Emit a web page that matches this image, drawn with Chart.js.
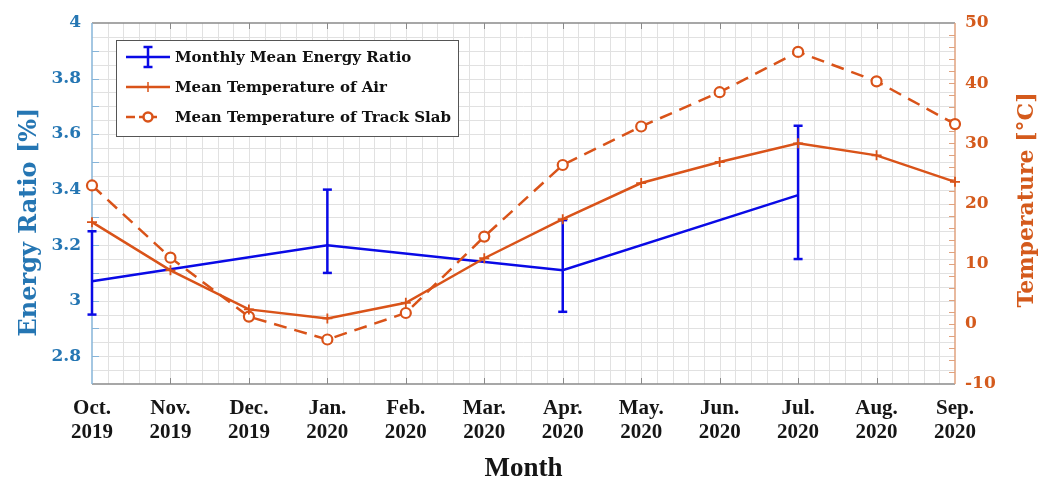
<!DOCTYPE html>
<html>
<head>
<meta charset="utf-8">
<script src="https://cdn.jsdelivr.net/npm/chart.js@4.4.1/dist/chart.umd.min.js"></script>
<style>
  html, body { margin: 0; padding: 0; background: #ffffff; }
  #wrap { width: 1053px; height: 481px; position: relative; }
</style>
</head>
<body>
<div id="wrap"><canvas id="c" width="1053" height="481"></canvas></div>
<script>
// Months along the bottom axis (two-line labels)
const months = ['Oct.', 'Nov.', 'Dec.', 'Jan.', 'Feb.', 'Mar.', 'Apr.', 'May.', 'Jun.', 'Jul.', 'Aug.', 'Sep.'];
const years  = ['2019', '2019', '2019', '2020', '2020', '2020', '2020', '2020', '2020', '2020', '2020', '2020'];

// Monthly mean energy ratio [%] (quarterly measurements) with error-bar limits
const energyRatio = [3.07, null, null, 3.20, null, null, 3.11, null, null, 3.38, null, null];
const energyHigh  = [3.25, null, null, 3.40, null, null, 3.29, null, null, 3.63, null, null];
const energyLow   = [2.95, null, null, 3.10, null, null, 2.96, null, null, 3.15, null, null];

// Mean temperatures [°C]
const airTemp  = [16.9, 8.9, 2.4, 0.9, 3.5, 10.9, 17.4, 23.4, 26.9, 30.0, 28.0, 23.6];
const slabTemp = [23.0, 11.0, 1.2, -2.6, 1.8, 14.5, 26.4, 32.8, 38.5, 45.2, 40.3, 33.2];

// Axis ticks
const ratioTicks = [2.8, 3.0, 3.2, 3.4, 3.6, 3.8, 4.0];
const tempTicks  = [-10, 0, 10, 20, 30, 40, 50];

const seriesLabels = ['Monthly Mean Energy Ratio', 'Mean Temperature of Air', 'Mean Temperature of Track Slab'];

const BLUE = '#0a0ae6';
const ORANGE = '#d95319';
const LEFT_AXIS_TEXT = '#2576b3';
const RIGHT_AXIS_TEXT = '#d45a1c';
const SERIF = '"DejaVu Serif", "Liberation Serif", serif';
const TIMES = '"Liberation Serif", "DejaVu Serif", serif';

function seg(ctx, x0, y0, x1, y1) {
  ctx.beginPath(); ctx.moveTo(x0, y0); ctx.lineTo(x1, y1); ctx.stroke();
}

// Grid, axis frame and inward tick marks
const framePlugin = {
  id: 'frame',
  beforeDatasetsDraw(chart) {
    const { ctx, chartArea: a, scales: { x, yE, yT } } = chart;
    ctx.save();
    ctx.lineWidth = 1;
    ctx.strokeStyle = '#e1e1e1';
    // vertical grid: five divisions per month
    for (let i = 0; i < months.length - 1; i++) {
      const p0 = x.getPixelForValue(i), p1 = x.getPixelForValue(i + 1);
      for (let k = 1; k < 5; k++) {
        const px = Math.round(p0 + (p1 - p0) * k / 5) + 0.5;
        seg(ctx, px, a.top, px, a.bottom);
      }
      if (i > 0) { const px = Math.round(p0) + 0.5; seg(ctx, px, a.top, px, a.bottom); }
    }
    // horizontal grid: every 0.05 on the ratio axis
    const nRows = Math.round((yE.max - yE.min) / 0.05);
    for (let j = 1; j < nRows; j++) {
      const py = Math.round(yE.getPixelForValue(yE.min + j * 0.05)) + 0.5;
      seg(ctx, a.left, py, a.right, py);
    }

    // top & bottom frame with month ticks
    ctx.strokeStyle = '#8a8a8a';
    ctx.lineWidth = 1.5;
    seg(ctx, a.left, a.top, a.right, a.top);
    seg(ctx, a.left, a.bottom, a.right, a.bottom);
    ctx.lineWidth = 1;
    for (let i = 1; i < months.length - 1; i++) {
      const px = Math.round(x.getPixelForValue(i)) + 0.5;
      seg(ctx, px, a.top, px, a.top + 6);
      seg(ctx, px, a.bottom, px, a.bottom - 6);
    }

    // left axis (ratio) with ticks every 0.1
    ctx.strokeStyle = '#86b4d8';
    ctx.lineWidth = 1.5;
    seg(ctx, a.left, a.top, a.left, a.bottom);
    ctx.lineWidth = 1;
    const nLeft = Math.round((yE.max - yE.min) / 0.1);
    for (let j = 1; j < nLeft; j++) {
      const py = Math.round(yE.getPixelForValue(yE.min + j * 0.1)) + 0.5;
      seg(ctx, a.left, py, a.left + 7, py);
    }

    // right axis (temperature) with ticks every 2 °C
    ctx.strokeStyle = '#e0a27e';
    ctx.lineWidth = 1.5;
    seg(ctx, a.right, a.top, a.right, a.bottom);
    ctx.lineWidth = 1;
    for (let t = yT.min + 2; t < yT.max; t += 2) {
      const py = Math.round(yT.getPixelForValue(t)) + 0.5;
      seg(ctx, a.right, py, a.right - 6, py);
    }
    ctx.restore();
  },
  afterDatasetDraw(chart, args) {
    // error bars drawn right after the energy-ratio line
    if (args.index !== 0) return;
    const { ctx, scales: { x, yE } } = chart;
    ctx.save();
    ctx.strokeStyle = BLUE;
    ctx.lineWidth = 2.5;
    energyRatio.forEach((v, i) => {
      if (v === null) return;
      const px = x.getPixelForValue(i);
      const hi = yE.getPixelForValue(energyHigh[i]);
      const lo = yE.getPixelForValue(energyLow[i]);
      seg(ctx, px, hi, px, lo);
      seg(ctx, px - 4.5, hi, px + 4.5, hi);
      seg(ctx, px - 4.5, lo, px + 4.5, lo);
    });
    ctx.restore();
  },
  afterDraw(chart) {
    const { ctx, chartArea: a, scales: { x } } = chart;
    ctx.save();

    // bottom category labels
    ctx.fillStyle = '#151515';
    ctx.textAlign = 'center';
    ctx.textBaseline = 'middle';
    ctx.font = 'bold 21px ' + TIMES;
    months.forEach((m, i) => {
      const px = x.getPixelForValue(i);
      ctx.fillText(m, px, 409);
      ctx.fillText(years[i], px, 433);
    });
    ctx.font = 'bold 27px ' + TIMES;
    ctx.fillText('Month', (a.left + a.right) / 2, 469);

    // axis titles
    ctx.font = 'bold 24px ' + SERIF;
    ctx.fillStyle = LEFT_AXIS_TEXT;
    ctx.save();
    ctx.translate(30, 222);
    ctx.rotate(-Math.PI / 2);
    ctx.fillText('Energy Ratio [%]', 0, 0);
    ctx.restore();
    ctx.font = 'bold 22px ' + SERIF;
    ctx.fillStyle = RIGHT_AXIS_TEXT;
    ctx.save();
    ctx.translate(1027, 200);
    ctx.rotate(-Math.PI / 2);
    ctx.fillText('Temperature [°C]', 0, 0);
    ctx.restore();

    // legend box
    const bx = 116, by = 40, bw = 342, bh = 96;
    ctx.fillStyle = '#ffffff';
    ctx.fillRect(bx, by, bw, bh);
    ctx.strokeStyle = '#555555';
    ctx.lineWidth = 1;
    ctx.strokeRect(bx + 0.5, by + 0.5, bw, bh);
    const rows = [57, 87, 117];
    const ix0 = 126, ix1 = 170, icx = 148;
    // energy ratio icon: line with error bar
    ctx.strokeStyle = BLUE; ctx.lineWidth = 2.5;
    seg(ctx, ix0, rows[0], ix1, rows[0]);
    seg(ctx, icx, rows[0] - 10, icx, rows[0] + 10);
    seg(ctx, icx - 4.5, rows[0] - 10, icx + 4.5, rows[0] - 10);
    seg(ctx, icx - 4.5, rows[0] + 10, icx + 4.5, rows[0] + 10);
    // air icon: line with plus marker
    ctx.strokeStyle = ORANGE; ctx.lineWidth = 2.5;
    seg(ctx, ix0, rows[1], ix1, rows[1]);
    ctx.lineWidth = 1.5;
    seg(ctx, icx, rows[1] - 5, icx, rows[1] + 5);
    // slab icon: dash with circle
    ctx.lineWidth = 2.5;
    seg(ctx, ix0, rows[2], ix0 + 9, rows[2]);
    seg(ctx, icx - 9, rows[2], icx + 9, rows[2]);
    ctx.fillStyle = '#ffffff';
    ctx.beginPath(); ctx.arc(icx, rows[2], 4.5, 0, Math.PI * 2); ctx.fill(); ctx.stroke();

    ctx.fillStyle = '#111111';
    ctx.font = 'bold 15px ' + SERIF;
    ctx.textAlign = 'left';
    seriesLabels.forEach((t, i) => ctx.fillText(t, 175, rows[i] + 1));
    ctx.restore();
  }
};

new Chart(document.getElementById('c'), {
  type: 'line',
  data: {
    labels: months,
    datasets: [
      {
        label: seriesLabels[0],
        data: energyRatio,
        yAxisID: 'yE',
        borderColor: BLUE,
        borderWidth: 2.5,
        pointRadius: 0,
        spanGaps: true,
        tension: 0,
        order: 3
      },
      {
        label: seriesLabels[1],
        data: airTemp,
        yAxisID: 'yT',
        borderColor: ORANGE,
        borderWidth: 2.5,
        pointStyle: 'cross',
        pointRadius: 5,
        pointBorderWidth: 1.8,
        pointBorderColor: ORANGE,
        tension: 0,
        order: 1
      },
      {
        label: seriesLabels[2],
        data: slabTemp,
        yAxisID: 'yT',
        borderColor: ORANGE,
        borderWidth: 2.5,
        borderDash: [13, 8],
        pointStyle: 'circle',
        pointRadius: 5,
        pointBorderWidth: 2.2,
        pointBorderColor: ORANGE,
        pointBackgroundColor: '#ffffff',
        tension: 0,
        order: 2
      }
    ]
  },
  options: {
    responsive: false,
    animation: false,
    events: [],
    layout: { padding: { top: 23, left: 0, right: 0, bottom: 0 } },
    plugins: { legend: { display: false }, tooltip: { enabled: false } },
    scales: {
      x: {
        type: 'category',
        offset: false,
        grid: { display: false },
        border: { display: false },
        ticks: { display: false },
        afterFit(s) { s.height = 97; }
      },
      yE: {
        type: 'linear',
        position: 'left',
        min: 2.7,
        max: 4.0,
        grid: { display: false },
        border: { display: false },
        afterBuildTicks(s) { s.ticks = ratioTicks.map(v => ({ value: v })); },
        ticks: {
          color: LEFT_AXIS_TEXT,
          font: { family: SERIF, size: 17, weight: 'bold' },
          padding: 3,
          callback: v => String(Math.round(v * 10) / 10)
        },
        afterFit(s) { s.width = 92; }
      },
      yT: {
        type: 'linear',
        position: 'right',
        min: -10,
        max: 50,
        grid: { display: false },
        border: { display: false },
        afterBuildTicks(s) { s.ticks = tempTicks.map(v => ({ value: v })); },
        ticks: {
          color: RIGHT_AXIS_TEXT,
          font: { family: SERIF, size: 17, weight: 'bold' },
          padding: 2,
          callback: v => String(v)
        },
        afterFit(s) { s.width = 98; }
      }
    }
  },
  plugins: [framePlugin]
});
</script>
</body>
</html>
